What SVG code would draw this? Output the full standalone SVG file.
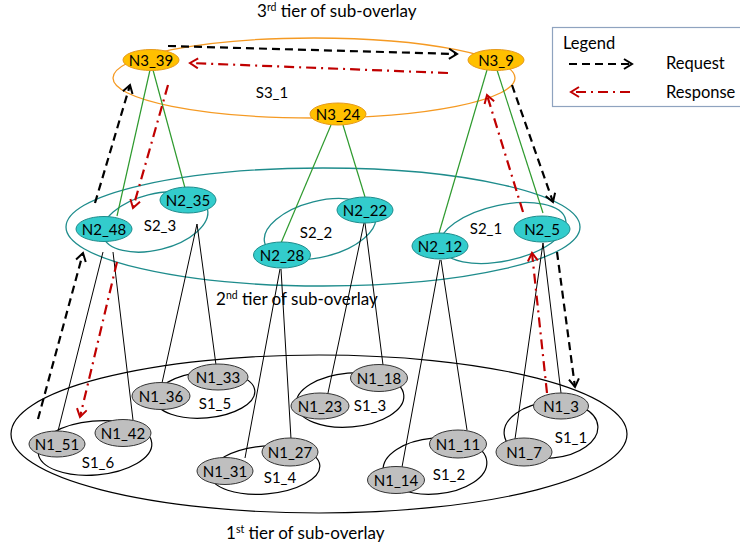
<svg xmlns="http://www.w3.org/2000/svg" width="740" height="550" viewBox="0 0 740 550">
<style>
text{font-family:Lato,"Liberation Sans",sans-serif;fill:#000}
.nt{font-size:15px;text-anchor:middle;dominant-baseline:central}
.lb{font-size:15px;text-anchor:middle;dominant-baseline:central}
.tt{font-size:17px}
.lg{font-size:16.5px}
.n3{fill:#ffc000;stroke:#e69a1c;stroke-width:1}
.n2{fill:#33cccc;stroke:#1e8c8c;stroke-width:1}
.n1{fill:#bfbfbf;stroke:#333;stroke-width:1}
.t3{fill:none;stroke:#f59a23;stroke-width:1.3}
.t2{fill:none;stroke:#1e8c8c;stroke-width:1.3}
.t1{fill:none;stroke:#000;stroke-width:1.2}
.g{stroke:#2e9a2e;stroke-width:1.2}
.k{stroke:#000;stroke-width:1}
.req{fill:none;stroke:#000;stroke-width:2.2;stroke-dasharray:8 5;marker-end:url(#ab)}
.rsp{fill:none;stroke:#c00000;stroke-width:2.2;stroke-dasharray:10 5 2 5;marker-end:url(#ar)}
</style>
<defs>
<marker id="ab" viewBox="0 0 12 12" refX="10" refY="6" markerWidth="12" markerHeight="12" markerUnits="userSpaceOnUse" orient="auto">
<path d="M2,1 L10,6 L2,11" fill="none" stroke="#000" stroke-width="2" stroke-dasharray="none"/>
</marker>
<marker id="ar" viewBox="0 0 12 12" refX="10" refY="6" markerWidth="12" markerHeight="12" markerUnits="userSpaceOnUse" orient="auto">
<path d="M2,1 L10,6 L2,11" fill="none" stroke="#c00000" stroke-width="2" stroke-dasharray="none"/>
</marker>
</defs>
<rect width="740" height="550" fill="#fff"/>

<!-- tier titles -->
<text class="tt" x="257" y="17">3<tspan font-size="10.5" dy="-6">rd</tspan><tspan dy="6"> tier of sub-overlay</tspan></text>
<text class="tt" x="216" y="305">2<tspan font-size="10.5" dy="-6">nd</tspan><tspan dy="6"> tier of sub-overlay</tspan></text>
<text class="tt" x="226" y="539">1<tspan font-size="10.5" dy="-6">st</tspan><tspan dy="6"> tier of sub-overlay</tspan></text>

<!-- legend -->
<g id="legend">
<rect x="552.5" y="27.5" width="190" height="79" fill="#fff" stroke="#8fa3bf" stroke-width="1.2"/>
<text class="lg" x="563" y="49">Legend</text>
<line x1="569" y1="64" x2="632" y2="64" class="req"/>
<text class="lg" x="666" y="69">Request</text>
<line x1="630" y1="92" x2="571" y2="92" class="rsp"/>
<text class="lg" x="666" y="98">Response</text>
</g>

<!-- tier / subgroup ellipses -->
<g id="overlays">
<ellipse id="tier3" class="t3" cx="314" cy="78" rx="201" ry="40"/>
<ellipse id="tier2" class="t2" cx="323" cy="227" rx="257" ry="59"/>
<ellipse id="tier1" class="t1" cx="319" cy="434" rx="308" ry="79"/>
<ellipse id="S2_3" class="t2" cx="155" cy="222" rx="54" ry="28" transform="rotate(-14 155 222)"/>
<ellipse id="S2_2" class="t2" cx="320" cy="229" rx="57" ry="28" transform="rotate(-14 320 229)"/>
<ellipse id="S2_1" class="t2" cx="503" cy="233" rx="64" ry="28" transform="rotate(-12 503 233)"/>
<ellipse id="S1_6" class="t1" cx="95" cy="448" rx="57" ry="27" transform="rotate(-5 95 448)"/>
<ellipse id="S1_5" class="t1" cx="205" cy="395" rx="50" ry="23" transform="rotate(-5 205 395)"/>
<ellipse id="S1_4" class="t1" cx="265" cy="470" rx="55" ry="24" transform="rotate(-5 265 470)"/>
<ellipse id="S1_3" class="t1" cx="350" cy="400" rx="54" ry="27" transform="rotate(-5 350 400)"/>
<ellipse id="S1_2" class="t1" cx="435" cy="466" rx="52" ry="28" transform="rotate(-5 435 466)"/>
<ellipse id="S1_1" class="t1" cx="551" cy="430" rx="47" ry="28" transform="rotate(-5 551 430)"/>
</g>

<!-- connectors -->
<g id="connectors">
<line class="g" x1="150" y1="70" x2="117" y2="216"/>
<line class="g" x1="153" y1="70" x2="185" y2="188"/>
<line class="g" x1="331" y1="125" x2="281" y2="243"/>
<line class="g" x1="343" y1="125" x2="365" y2="197"/>
<line class="g" x1="487" y1="70" x2="439" y2="233"/>
<line class="g" x1="497" y1="70" x2="543" y2="213"/>

<line class="k" x1="103" y1="252" x2="58" y2="431"/>
<line class="k" x1="113" y1="252" x2="133" y2="420"/>
<line class="k" x1="197" y1="224" x2="162" y2="383"/>
<line class="k" x1="197" y1="224" x2="216" y2="365"/>
<line class="k" x1="280" y1="269" x2="245" y2="458"/>
<line class="k" x1="281" y1="269" x2="291" y2="439"/>
<line class="k" x1="364" y1="223" x2="328" y2="393"/>
<line class="k" x1="365" y1="223" x2="383" y2="365"/>
<line class="k" x1="440" y1="260" x2="402" y2="467"/>
<line class="k" x1="441" y1="260" x2="467" y2="430"/>
<line class="k" x1="543" y1="243" x2="515" y2="439"/>
<line class="k" x1="543" y1="243" x2="561" y2="393"/>

<line class="req" x1="38" y1="419" x2="83" y2="253"/>
<line class="req" x1="95" y1="203" x2="130" y2="85"/>
<line class="req" x1="168" y1="46" x2="457" y2="54"/>
<line class="req" x1="512" y1="85" x2="553" y2="202"/>
<line class="req" x1="557" y1="252" x2="575" y2="387"/>

<line class="rsp" x1="448" y1="73" x2="190" y2="63"/>
<line class="rsp" x1="547" y1="393" x2="532" y2="253"/>
<line class="rsp" x1="523" y1="212" x2="487" y2="95"/>
<line class="rsp" x1="168" y1="85" x2="133" y2="208"/>
<line class="rsp" x1="117" y1="262" x2="80" y2="417"/>
</g>

<!-- tier 3 nodes -->
<g id="N3_39"><ellipse class="n3" cx="151" cy="60" rx="28" ry="10.5"/><text class="nt" x="151" y="60">N3_39</text></g>
<g id="N3_9"><ellipse class="n3" cx="496" cy="60" rx="28" ry="10.5"/><text class="nt" x="496" y="60">N3_9</text></g>
<g id="N3_24"><ellipse class="n3" cx="338" cy="114" rx="28" ry="11"/><text class="nt" x="338" y="114">N3_24</text></g>
<text class="lb" x="272" y="92">S3_1</text>

<!-- tier 2 nodes -->
<g id="N2_48"><ellipse class="n2" cx="104" cy="229" rx="28" ry="12.5"/><text class="nt" x="104" y="229">N2_48</text></g>
<g id="N2_35"><ellipse class="n2" cx="188" cy="200" rx="28" ry="13"/><text class="nt" x="188" y="200">N2_35</text></g>
<g id="N2_28"><ellipse class="n2" cx="282" cy="255" rx="28.5" ry="13"/><text class="nt" x="282" y="255">N2_28</text></g>
<g id="N2_22"><ellipse class="n2" cx="365" cy="210" rx="28" ry="13"/><text class="nt" x="365" y="210">N2_22</text></g>
<g id="N2_12"><ellipse class="n2" cx="440" cy="246" rx="28" ry="13"/><text class="nt" x="440" y="246">N2_12</text></g>
<g id="N2_5"><ellipse class="n2" cx="542" cy="229" rx="28" ry="13"/><text class="nt" x="542" y="229">N2_5</text></g>
<text class="lb" x="160" y="225">S2_3</text>
<text class="lb" x="316" y="232">S2_2</text>
<text class="lb" x="486" y="228">S2_1</text>

<!-- tier 1 nodes -->
<g id="N1_51"><ellipse class="n1" cx="57" cy="444" rx="28" ry="13"/><text class="nt" x="57" y="444">N1_51</text></g>
<g id="N1_42"><ellipse class="n1" cx="123" cy="433" rx="28" ry="13.5"/><text class="nt" x="123" y="433">N1_42</text></g>
<g id="N1_36"><ellipse class="n1" cx="161" cy="396" rx="29" ry="13.5"/><text class="nt" x="161" y="396">N1_36</text></g>
<g id="N1_33"><ellipse class="n1" cx="218" cy="377" rx="30" ry="13"/><text class="nt" x="218" y="377">N1_33</text></g>
<g id="N1_31"><ellipse class="n1" cx="225" cy="471" rx="28" ry="13.5"/><text class="nt" x="225" y="471">N1_31</text></g>
<g id="N1_27"><ellipse class="n1" cx="290" cy="452" rx="28" ry="14"/><text class="nt" x="290" y="452">N1_27</text></g>
<g id="N1_23"><ellipse class="n1" cx="320" cy="406" rx="29" ry="13"/><text class="nt" x="320" y="406">N1_23</text></g>
<g id="N1_18"><ellipse class="n1" cx="379" cy="378" rx="28.5" ry="13.5"/><text class="nt" x="379" y="378">N1_18</text></g>
<g id="N1_14"><ellipse class="n1" cx="396" cy="480" rx="28.5" ry="13.5"/><text class="nt" x="396" y="480">N1_14</text></g>
<g id="N1_11"><ellipse class="n1" cx="458" cy="444" rx="28.5" ry="14"/><text class="nt" x="458" y="444">N1_11</text></g>
<g id="N1_7"><ellipse class="n1" cx="524" cy="452" rx="28" ry="14"/><text class="nt" x="524" y="452">N1_7</text></g>
<g id="N1_3"><ellipse class="n1" cx="561" cy="406" rx="27.5" ry="13"/><text class="nt" x="561" y="406">N1_3</text></g>
<text class="lb" x="98" y="462">S1_6</text>
<text class="lb" x="215" y="403">S1_5</text>
<text class="lb" x="280" y="477">S1_4</text>
<text class="lb" x="370" y="405">S1_3</text>
<text class="lb" x="449" y="474">S1_2</text>
<text class="lb" x="571" y="437">S1_1</text>
</svg>
